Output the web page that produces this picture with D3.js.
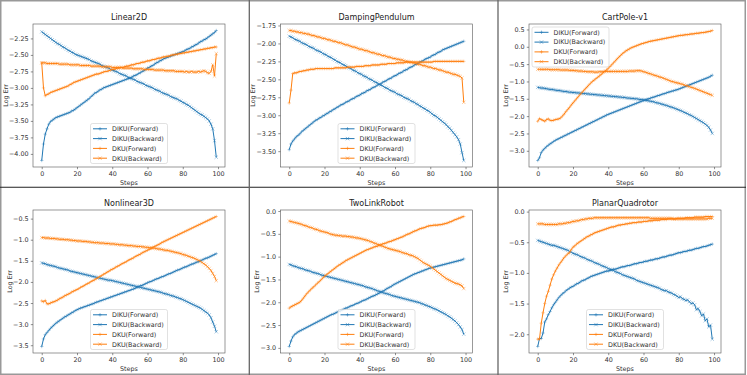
<!DOCTYPE html>
<html>
<head>
<meta charset="utf-8">
<script src="https://cdn.jsdelivr.net/npm/d3@7"></script>
<style>
  body { margin: 0; background: #fff; }
  svg { display: block; font-family: "DejaVu Sans", sans-serif; }
</style>
</head>
<body>
<div id="chart"></div>
<script>
// ---- data (log error per step, 0..99) ----
const steps = d3.range(100);
const seriesNames = ["DIKU(Forward)", "DIKU(Backward)", "DKU(Forward)", "DKU(Backward)"];
const seriesColors = ["#1f77b4", "#1f77b4", "#ff7f0e", "#ff7f0e"];
const seriesMarkers = ["+", "x", "+", "x"];
const xTicks = [0, 20, 40, 60, 80, 100];

// Linear2D
const linear2dDikuFwd = [-4.10,-3.85,-3.70,-3.62,-3.55,-3.51,-3.49,-3.47,-3.45,-3.44,
  -3.43,-3.42,-3.41,-3.40,-3.39,-3.38,-3.37,-3.35,-3.34,-3.32,
  -3.30,-3.28,-3.26,-3.24,-3.22,-3.20,-3.18,-3.16,-3.13,-3.11,
  -3.08,-3.07,-3.05,-3.03,-3.02,-3.00,-2.99,-2.98,-2.97,-2.96,
  -2.95,-2.94,-2.93,-2.92,-2.91,-2.90,-2.89,-2.88,-2.87,-2.86,
  -2.85,-2.84,-2.82,-2.81,-2.80,-2.78,-2.77,-2.75,-2.74,-2.72,
  -2.70,-2.69,-2.67,-2.66,-2.64,-2.62,-2.61,-2.59,-2.58,-2.56,
  -2.55,-2.54,-2.53,-2.52,-2.51,-2.50,-2.49,-2.48,-2.47,-2.46,
  -2.45,-2.44,-2.42,-2.41,-2.40,-2.38,-2.37,-2.35,-2.34,-2.32,
  -2.30,-2.29,-2.27,-2.26,-2.24,-2.22,-2.20,-2.18,-2.16,-2.13];
const linear2dDikuBwd = [-2.15,-2.17,-2.19,-2.21,-2.23,-2.25,-2.27,-2.29,-2.31,-2.33,
  -2.34,-2.36,-2.38,-2.39,-2.41,-2.43,-2.44,-2.46,-2.47,-2.49,
  -2.50,-2.51,-2.52,-2.53,-2.54,-2.55,-2.56,-2.57,-2.59,-2.60,
  -2.61,-2.62,-2.63,-2.64,-2.66,-2.67,-2.68,-2.69,-2.70,-2.72,
  -2.73,-2.74,-2.75,-2.76,-2.78,-2.79,-2.80,-2.81,-2.82,-2.84,
  -2.85,-2.86,-2.87,-2.88,-2.90,-2.91,-2.92,-2.93,-2.94,-2.96,
  -2.97,-2.98,-2.99,-3.00,-3.02,-3.03,-3.04,-3.05,-3.07,-3.08,
  -3.09,-3.10,-3.11,-3.13,-3.14,-3.15,-3.16,-3.17,-3.19,-3.20,
  -3.22,-3.23,-3.25,-3.26,-3.28,-3.30,-3.32,-3.34,-3.36,-3.38,
  -3.40,-3.41,-3.43,-3.45,-3.47,-3.50,-3.55,-3.62,-3.80,-4.05];
const linear2dDkuFwd = [-2.62,-3.00,-3.12,-3.10,-3.09,-3.07,-3.06,-3.05,-3.04,-3.03,
  -3.02,-3.01,-3.00,-2.99,-2.98,-2.97,-2.95,-2.94,-2.92,-2.91,
  -2.90,-2.89,-2.88,-2.87,-2.86,-2.85,-2.84,-2.83,-2.82,-2.81,
  -2.80,-2.79,-2.79,-2.78,-2.77,-2.76,-2.75,-2.75,-2.74,-2.73,
  -2.72,-2.72,-2.71,-2.70,-2.70,-2.69,-2.69,-2.68,-2.67,-2.67,
  -2.66,-2.65,-2.65,-2.64,-2.63,-2.63,-2.62,-2.61,-2.61,-2.60,
  -2.59,-2.59,-2.58,-2.57,-2.57,-2.56,-2.55,-2.55,-2.54,-2.53,
  -2.53,-2.52,-2.52,-2.51,-2.50,-2.50,-2.49,-2.49,-2.48,-2.48,
  -2.47,-2.47,-2.46,-2.46,-2.45,-2.45,-2.44,-2.44,-2.43,-2.43,
  -2.42,-2.42,-2.41,-2.41,-2.40,-2.40,-2.39,-2.39,-2.38,-2.38];
const linear2dDkuBwd = [-2.62,-2.62,-2.62,-2.63,-2.63,-2.63,-2.63,-2.63,-2.63,-2.63,
  -2.64,-2.64,-2.64,-2.64,-2.64,-2.64,-2.65,-2.65,-2.65,-2.65,
  -2.65,-2.65,-2.66,-2.66,-2.66,-2.66,-2.66,-2.66,-2.67,-2.67,
  -2.67,-2.67,-2.67,-2.67,-2.68,-2.68,-2.68,-2.68,-2.68,-2.68,
  -2.69,-2.69,-2.69,-2.69,-2.69,-2.69,-2.70,-2.70,-2.70,-2.70,
  -2.70,-2.70,-2.71,-2.71,-2.71,-2.71,-2.71,-2.71,-2.72,-2.72,
  -2.72,-2.72,-2.72,-2.72,-2.73,-2.73,-2.73,-2.73,-2.73,-2.73,
  -2.74,-2.74,-2.74,-2.74,-2.74,-2.74,-2.75,-2.75,-2.75,-2.75,
  -2.75,-2.76,-2.75,-2.76,-2.76,-2.75,-2.76,-2.76,-2.76,-2.75,
  -2.76,-2.75,-2.74,-2.75,-2.77,-2.78,-2.75,-2.65,-2.82,-2.48];
const linear2dTicks = [-4.00, -3.75, -3.50, -3.25, -3.00, -2.75, -2.50, -2.25];

// DampingPendulum
const dampingDikuFwd = [-3.48,-3.40,-3.36,-3.33,-3.30,-3.28,-3.26,-3.23,-3.21,-3.19,
  -3.17,-3.15,-3.13,-3.11,-3.09,-3.07,-3.06,-3.04,-3.03,-3.01,
  -3.00,-2.98,-2.97,-2.95,-2.94,-2.92,-2.91,-2.89,-2.88,-2.86,
  -2.85,-2.84,-2.82,-2.81,-2.80,-2.78,-2.77,-2.76,-2.74,-2.73,
  -2.72,-2.70,-2.69,-2.68,-2.66,-2.65,-2.64,-2.62,-2.61,-2.60,
  -2.58,-2.57,-2.56,-2.54,-2.53,-2.52,-2.50,-2.49,-2.48,-2.46,
  -2.45,-2.44,-2.42,-2.41,-2.40,-2.38,-2.37,-2.36,-2.34,-2.33,
  -2.32,-2.30,-2.29,-2.28,-2.26,-2.25,-2.24,-2.22,-2.21,-2.20,
  -2.19,-2.17,-2.16,-2.15,-2.13,-2.12,-2.11,-2.09,-2.08,-2.07,
  -2.06,-2.05,-2.04,-2.03,-2.02,-2.01,-2.00,-1.99,-1.98,-1.97];
const dampingDikuBwd = [-1.90,-1.91,-1.92,-1.94,-1.95,-1.96,-1.97,-1.99,-2.00,-2.01,
  -2.02,-2.04,-2.05,-2.06,-2.07,-2.09,-2.10,-2.11,-2.12,-2.14,
  -2.15,-2.16,-2.18,-2.19,-2.20,-2.22,-2.23,-2.25,-2.26,-2.27,
  -2.29,-2.30,-2.31,-2.33,-2.34,-2.35,-2.37,-2.38,-2.39,-2.41,
  -2.42,-2.43,-2.45,-2.46,-2.47,-2.49,-2.50,-2.51,-2.53,-2.54,
  -2.55,-2.57,-2.58,-2.59,-2.61,-2.62,-2.63,-2.65,-2.66,-2.67,
  -2.68,-2.70,-2.71,-2.72,-2.73,-2.75,-2.76,-2.77,-2.78,-2.80,
  -2.81,-2.82,-2.84,-2.85,-2.87,-2.88,-2.90,-2.91,-2.93,-2.94,
  -2.96,-2.98,-3.00,-3.01,-3.03,-3.05,-3.07,-3.09,-3.11,-3.13,
  -3.16,-3.18,-3.21,-3.24,-3.27,-3.30,-3.34,-3.40,-3.52,-3.63];
const dampingDkuFwd = [-2.83,-2.65,-2.42,-2.41,-2.41,-2.40,-2.39,-2.39,-2.38,-2.38,
  -2.37,-2.37,-2.36,-2.36,-2.36,-2.35,-2.35,-2.35,-2.35,-2.35,
  -2.35,-2.35,-2.35,-2.35,-2.35,-2.35,-2.34,-2.34,-2.34,-2.34,
  -2.34,-2.34,-2.34,-2.33,-2.33,-2.33,-2.33,-2.33,-2.32,-2.32,
  -2.32,-2.32,-2.32,-2.31,-2.31,-2.31,-2.31,-2.30,-2.30,-2.30,
  -2.30,-2.30,-2.29,-2.29,-2.29,-2.29,-2.28,-2.28,-2.28,-2.28,
  -2.28,-2.27,-2.27,-2.27,-2.27,-2.27,-2.26,-2.26,-2.26,-2.26,
  -2.26,-2.26,-2.26,-2.26,-2.26,-2.26,-2.26,-2.26,-2.26,-2.26,
  -2.26,-2.26,-2.25,-2.25,-2.25,-2.25,-2.25,-2.25,-2.25,-2.25,
  -2.25,-2.25,-2.25,-2.25,-2.25,-2.25,-2.25,-2.25,-2.25,-2.25];
const dampingDkuBwd = [-1.82,-1.82,-1.83,-1.83,-1.84,-1.84,-1.85,-1.85,-1.86,-1.86,
  -1.87,-1.87,-1.88,-1.89,-1.89,-1.90,-1.91,-1.91,-1.92,-1.93,
  -1.93,-1.94,-1.95,-1.95,-1.96,-1.97,-1.97,-1.98,-1.99,-1.99,
  -2.00,-2.01,-2.02,-2.02,-2.03,-2.04,-2.05,-2.05,-2.06,-2.07,
  -2.08,-2.08,-2.09,-2.10,-2.10,-2.11,-2.12,-2.13,-2.13,-2.14,
  -2.15,-2.15,-2.16,-2.17,-2.17,-2.18,-2.19,-2.19,-2.20,-2.21,
  -2.21,-2.22,-2.22,-2.23,-2.23,-2.24,-2.25,-2.25,-2.26,-2.26,
  -2.27,-2.27,-2.28,-2.29,-2.29,-2.30,-2.31,-2.31,-2.32,-2.33,
  -2.33,-2.34,-2.35,-2.35,-2.36,-2.37,-2.37,-2.38,-2.39,-2.40,
  -2.40,-2.41,-2.42,-2.43,-2.43,-2.44,-2.45,-2.46,-2.48,-2.82];
const dampingTicks = [-3.50, -3.25, -3.00, -2.75, -2.50, -2.25, -2.00, -1.75];

// CartPole-v1
const cartpoleDikuFwd = [-3.28,-3.20,-3.05,-2.98,-2.93,-2.88,-2.84,-2.80,-2.77,-2.73,
  -2.70,-2.67,-2.65,-2.62,-2.60,-2.57,-2.55,-2.52,-2.50,-2.47,
  -2.45,-2.42,-2.40,-2.37,-2.35,-2.32,-2.30,-2.27,-2.25,-2.22,
  -2.20,-2.17,-2.15,-2.12,-2.10,-2.07,-2.05,-2.02,-2.00,-1.97,
  -1.95,-1.93,-1.91,-1.89,-1.87,-1.85,-1.83,-1.81,-1.79,-1.77,
  -1.75,-1.73,-1.71,-1.69,-1.67,-1.65,-1.63,-1.61,-1.59,-1.57,
  -1.55,-1.53,-1.51,-1.50,-1.48,-1.46,-1.45,-1.43,-1.41,-1.40,
  -1.38,-1.36,-1.35,-1.33,-1.31,-1.30,-1.28,-1.27,-1.25,-1.24,
  -1.22,-1.20,-1.18,-1.16,-1.14,-1.12,-1.10,-1.08,-1.06,-1.04,
  -1.02,-1.00,-0.98,-0.96,-0.94,-0.92,-0.90,-0.88,-0.85,-0.82];
const cartpoleDikuBwd = [-1.17,-1.18,-1.19,-1.19,-1.20,-1.21,-1.22,-1.23,-1.23,-1.24,
  -1.25,-1.26,-1.26,-1.27,-1.28,-1.29,-1.29,-1.30,-1.31,-1.31,
  -1.32,-1.32,-1.33,-1.33,-1.34,-1.34,-1.35,-1.35,-1.36,-1.36,
  -1.37,-1.37,-1.38,-1.38,-1.39,-1.39,-1.40,-1.40,-1.41,-1.41,
  -1.42,-1.42,-1.43,-1.43,-1.44,-1.44,-1.45,-1.45,-1.46,-1.46,
  -1.47,-1.48,-1.48,-1.49,-1.49,-1.50,-1.50,-1.51,-1.52,-1.52,
  -1.53,-1.54,-1.55,-1.56,-1.57,-1.58,-1.59,-1.61,-1.62,-1.63,
  -1.65,-1.66,-1.68,-1.69,-1.71,-1.73,-1.74,-1.76,-1.78,-1.80,
  -1.82,-1.84,-1.86,-1.89,-1.91,-1.93,-1.96,-1.98,-2.01,-2.04,
  -2.07,-2.10,-2.13,-2.16,-2.19,-2.23,-2.27,-2.32,-2.40,-2.50];
const cartpoleDkuFwd = [-2.15,-2.07,-2.10,-2.12,-2.15,-2.10,-2.08,-2.12,-2.13,-2.12,
  -2.10,-2.09,-2.08,-2.05,-2.00,-1.94,-1.87,-1.81,-1.75,-1.68,
  -1.62,-1.56,-1.50,-1.44,-1.38,-1.32,-1.27,-1.21,-1.16,-1.10,
  -1.05,-1.00,-0.96,-0.92,-0.88,-0.84,-0.80,-0.75,-0.71,-0.67,
  -0.62,-0.57,-0.52,-0.46,-0.41,-0.35,-0.30,-0.25,-0.20,-0.16,
  -0.12,-0.09,-0.06,-0.03,-0.01,0.01,0.03,0.05,0.07,0.09,
  0.10,0.12,0.13,0.15,0.16,0.17,0.18,0.19,0.20,0.21,
  0.22,0.23,0.24,0.25,0.26,0.27,0.28,0.29,0.30,0.31,
  0.32,0.33,0.33,0.34,0.35,0.35,0.36,0.37,0.37,0.38,
  0.39,0.39,0.40,0.41,0.41,0.42,0.43,0.44,0.45,0.47];
const cartpoleDkuBwd = [-0.65,-0.65,-0.65,-0.65,-0.65,-0.65,-0.65,-0.66,-0.66,-0.66,
  -0.66,-0.66,-0.66,-0.67,-0.67,-0.67,-0.67,-0.67,-0.68,-0.68,
  -0.68,-0.69,-0.69,-0.70,-0.70,-0.70,-0.71,-0.71,-0.72,-0.72,
  -0.72,-0.72,-0.73,-0.73,-0.73,-0.72,-0.72,-0.72,-0.71,-0.71,
  -0.71,-0.71,-0.71,-0.71,-0.71,-0.71,-0.71,-0.71,-0.71,-0.71,
  -0.71,-0.71,-0.70,-0.70,-0.70,-0.70,-0.69,-0.69,-0.69,-0.70,
  -0.72,-0.73,-0.75,-0.77,-0.78,-0.80,-0.82,-0.83,-0.85,-0.87,
  -0.88,-0.90,-0.92,-0.94,-0.96,-0.98,-1.00,-1.01,-1.03,-1.04,
  -1.05,-1.07,-1.08,-1.10,-1.12,-1.13,-1.15,-1.17,-1.18,-1.20,
  -1.22,-1.24,-1.26,-1.28,-1.30,-1.32,-1.34,-1.36,-1.38,-1.40];
const cartpoleTicks = [-3.0, -2.5, -2.0, -1.5, -1.0, -0.5, 0.0, 0.5];

// Nonlinear3D
const nonlinearDikuFwd = [-3.53,-3.35,-3.25,-3.20,-3.15,-3.10,-3.06,-3.02,-2.98,-2.95,
  -2.92,-2.89,-2.86,-2.83,-2.81,-2.78,-2.76,-2.73,-2.71,-2.68,
  -2.66,-2.64,-2.62,-2.61,-2.59,-2.58,-2.56,-2.55,-2.53,-2.52,
  -2.50,-2.48,-2.47,-2.45,-2.44,-2.42,-2.41,-2.39,-2.38,-2.36,
  -2.35,-2.33,-2.32,-2.30,-2.29,-2.27,-2.26,-2.24,-2.23,-2.21,
  -2.20,-2.18,-2.17,-2.15,-2.13,-2.11,-2.09,-2.08,-2.06,-2.04,
  -2.02,-2.00,-1.99,-1.97,-1.95,-1.93,-1.92,-1.90,-1.88,-1.87,
  -1.85,-1.83,-1.81,-1.80,-1.78,-1.76,-1.74,-1.72,-1.71,-1.69,
  -1.67,-1.65,-1.64,-1.62,-1.60,-1.58,-1.57,-1.55,-1.53,-1.52,
  -1.50,-1.48,-1.46,-1.44,-1.43,-1.41,-1.39,-1.37,-1.35,-1.33];
const nonlinearDikuBwd = [-1.55,-1.56,-1.57,-1.59,-1.60,-1.61,-1.62,-1.63,-1.64,-1.66,
  -1.67,-1.68,-1.69,-1.70,-1.71,-1.72,-1.74,-1.75,-1.76,-1.77,
  -1.78,-1.79,-1.80,-1.81,-1.82,-1.83,-1.84,-1.85,-1.86,-1.87,
  -1.88,-1.89,-1.90,-1.91,-1.92,-1.93,-1.94,-1.95,-1.96,-1.96,
  -1.97,-1.98,-1.99,-2.00,-2.01,-2.02,-2.03,-2.04,-2.05,-2.06,
  -2.07,-2.08,-2.09,-2.10,-2.11,-2.12,-2.13,-2.14,-2.15,-2.16,
  -2.17,-2.18,-2.19,-2.20,-2.21,-2.22,-2.23,-2.24,-2.25,-2.27,
  -2.28,-2.29,-2.30,-2.32,-2.33,-2.34,-2.36,-2.37,-2.39,-2.40,
  -2.42,-2.44,-2.46,-2.48,-2.50,-2.52,-2.54,-2.56,-2.58,-2.60,
  -2.62,-2.65,-2.68,-2.71,-2.74,-2.78,-2.85,-2.95,-3.05,-3.18];
const nonlinearDkuFwd = [-2.45,-2.47,-2.44,-2.52,-2.52,-2.50,-2.48,-2.47,-2.45,-2.43,
  -2.40,-2.38,-2.36,-2.33,-2.31,-2.29,-2.27,-2.24,-2.22,-2.20,
  -2.18,-2.16,-2.13,-2.11,-2.09,-2.06,-2.04,-2.02,-1.99,-1.97,
  -1.95,-1.92,-1.90,-1.87,-1.85,-1.82,-1.80,-1.77,-1.75,-1.72,
  -1.70,-1.68,-1.65,-1.63,-1.61,-1.58,-1.56,-1.54,-1.52,-1.49,
  -1.47,-1.45,-1.43,-1.40,-1.38,-1.36,-1.34,-1.31,-1.29,-1.27,
  -1.25,-1.23,-1.21,-1.18,-1.16,-1.14,-1.12,-1.10,-1.07,-1.05,
  -1.03,-1.01,-0.99,-0.97,-0.95,-0.93,-0.91,-0.89,-0.87,-0.85,
  -0.83,-0.81,-0.79,-0.77,-0.75,-0.73,-0.71,-0.69,-0.67,-0.65,
  -0.63,-0.61,-0.59,-0.57,-0.55,-0.53,-0.51,-0.49,-0.47,-0.45];
const nonlinearDkuBwd = [-0.95,-0.95,-0.96,-0.96,-0.96,-0.97,-0.97,-0.97,-0.98,-0.98,
  -0.99,-0.99,-0.99,-1.00,-1.00,-1.00,-1.01,-1.01,-1.02,-1.02,
  -1.03,-1.03,-1.03,-1.04,-1.04,-1.04,-1.05,-1.05,-1.06,-1.06,
  -1.07,-1.07,-1.07,-1.08,-1.08,-1.08,-1.09,-1.09,-1.09,-1.10,
  -1.10,-1.10,-1.11,-1.11,-1.12,-1.12,-1.12,-1.13,-1.13,-1.14,
  -1.14,-1.14,-1.15,-1.15,-1.16,-1.16,-1.16,-1.17,-1.17,-1.18,
  -1.18,-1.19,-1.19,-1.20,-1.20,-1.21,-1.22,-1.22,-1.23,-1.24,
  -1.25,-1.25,-1.26,-1.27,-1.28,-1.29,-1.30,-1.31,-1.32,-1.33,
  -1.35,-1.36,-1.37,-1.39,-1.40,-1.42,-1.43,-1.45,-1.47,-1.49,
  -1.51,-1.54,-1.57,-1.60,-1.64,-1.68,-1.73,-1.80,-1.87,-1.97];
const nonlinearTicks = [-3.5, -3.0, -2.5, -2.0, -1.5, -1.0, -0.5];

// TwoLinkRobot
const twolinkDikuFwd = [-2.97,-2.85,-2.76,-2.71,-2.68,-2.65,-2.63,-2.61,-2.59,-2.57,
  -2.55,-2.53,-2.51,-2.49,-2.47,-2.45,-2.43,-2.41,-2.39,-2.37,
  -2.35,-2.33,-2.31,-2.29,-2.27,-2.26,-2.24,-2.22,-2.20,-2.19,
  -2.17,-2.15,-2.13,-2.12,-2.10,-2.08,-2.07,-2.05,-2.03,-2.02,
  -2.00,-1.98,-1.96,-1.95,-1.93,-1.91,-1.89,-1.87,-1.86,-1.84,
  -1.82,-1.80,-1.78,-1.76,-1.74,-1.71,-1.69,-1.67,-1.65,-1.62,
  -1.60,-1.58,-1.56,-1.54,-1.52,-1.50,-1.48,-1.46,-1.44,-1.42,
  -1.40,-1.38,-1.37,-1.35,-1.34,-1.32,-1.31,-1.29,-1.28,-1.26,
  -1.25,-1.24,-1.23,-1.22,-1.21,-1.20,-1.19,-1.18,-1.17,-1.16,
  -1.15,-1.14,-1.13,-1.12,-1.11,-1.10,-1.09,-1.08,-1.07,-1.05];
const twolinkDikuBwd = [-1.17,-1.18,-1.20,-1.21,-1.22,-1.24,-1.25,-1.26,-1.27,-1.29,
  -1.30,-1.31,-1.32,-1.34,-1.35,-1.36,-1.37,-1.38,-1.40,-1.41,
  -1.42,-1.43,-1.44,-1.45,-1.46,-1.47,-1.48,-1.49,-1.50,-1.51,
  -1.52,-1.53,-1.54,-1.55,-1.56,-1.57,-1.58,-1.59,-1.60,-1.61,
  -1.62,-1.63,-1.64,-1.66,-1.67,-1.68,-1.69,-1.70,-1.72,-1.73,
  -1.75,-1.76,-1.77,-1.79,-1.80,-1.81,-1.82,-1.83,-1.85,-1.86,
  -1.87,-1.88,-1.89,-1.90,-1.91,-1.92,-1.93,-1.94,-1.95,-1.96,
  -1.97,-1.98,-1.99,-2.00,-2.01,-2.03,-2.04,-2.06,-2.07,-2.09,
  -2.10,-2.12,-2.14,-2.15,-2.17,-2.19,-2.21,-2.23,-2.25,-2.27,
  -2.30,-2.32,-2.35,-2.38,-2.41,-2.45,-2.49,-2.54,-2.60,-2.70];
const twolinkDkuFwd = [-2.13,-2.10,-2.08,-2.06,-2.04,-2.02,-2.00,-1.96,-1.91,-1.86,
  -1.81,-1.77,-1.73,-1.69,-1.66,-1.62,-1.58,-1.55,-1.51,-1.47,
  -1.43,-1.40,-1.37,-1.34,-1.31,-1.28,-1.25,-1.22,-1.19,-1.17,
  -1.14,-1.12,-1.09,-1.07,-1.05,-1.03,-1.01,-0.99,-0.97,-0.95,
  -0.93,-0.91,-0.89,-0.87,-0.85,-0.84,-0.82,-0.81,-0.79,-0.78,
  -0.77,-0.75,-0.74,-0.72,-0.71,-0.70,-0.68,-0.67,-0.66,-0.64,
  -0.63,-0.61,-0.60,-0.58,-0.57,-0.55,-0.53,-0.51,-0.50,-0.48,
  -0.46,-0.44,-0.43,-0.41,-0.39,-0.38,-0.37,-0.36,-0.34,-0.33,
  -0.32,-0.32,-0.31,-0.31,-0.31,-0.30,-0.30,-0.29,-0.28,-0.27,
  -0.26,-0.24,-0.23,-0.21,-0.19,-0.18,-0.16,-0.15,-0.13,-0.12];
const twolinkDkuBwd = [-0.22,-0.23,-0.24,-0.25,-0.26,-0.27,-0.28,-0.29,-0.31,-0.32,
  -0.33,-0.35,-0.36,-0.37,-0.39,-0.40,-0.41,-0.43,-0.44,-0.45,
  -0.46,-0.47,-0.48,-0.50,-0.51,-0.52,-0.53,-0.53,-0.54,-0.54,
  -0.55,-0.55,-0.55,-0.56,-0.56,-0.57,-0.57,-0.58,-0.59,-0.59,
  -0.60,-0.61,-0.62,-0.63,-0.64,-0.65,-0.67,-0.68,-0.70,-0.71,
  -0.73,-0.74,-0.76,-0.77,-0.79,-0.80,-0.82,-0.83,-0.84,-0.85,
  -0.86,-0.87,-0.88,-0.89,-0.91,-0.92,-0.93,-0.94,-0.96,-0.97,
  -0.98,-1.00,-1.02,-1.04,-1.07,-1.10,-1.13,-1.15,-1.17,-1.19,
  -1.21,-1.24,-1.27,-1.30,-1.33,-1.36,-1.39,-1.42,-1.45,-1.48,
  -1.50,-1.52,-1.54,-1.56,-1.58,-1.59,-1.60,-1.62,-1.64,-1.70];
const twolinkTicks = [-3.0, -2.5, -2.0, -1.5, -1.0, -0.5, 0.0];

// PlanarQuadrotor
const quadDikuFwd = [-2.20,-2.07,-2.07,-1.98,-1.80,-1.75,-1.68,-1.63,-1.57,-1.52,
  -1.48,-1.44,-1.40,-1.37,-1.34,-1.32,-1.29,-1.27,-1.25,-1.23,
  -1.22,-1.20,-1.18,-1.17,-1.15,-1.13,-1.12,-1.11,-1.09,-1.08,
  -1.06,-1.05,-1.04,-1.03,-1.02,-1.01,-1.00,-0.99,-0.98,-0.97,
  -0.97,-0.96,-0.95,-0.94,-0.94,-0.93,-0.92,-0.91,-0.90,-0.90,
  -0.89,-0.88,-0.88,-0.87,-0.86,-0.85,-0.85,-0.84,-0.83,-0.83,
  -0.82,-0.81,-0.81,-0.80,-0.79,-0.79,-0.78,-0.77,-0.77,-0.76,
  -0.75,-0.74,-0.74,-0.73,-0.72,-0.71,-0.71,-0.70,-0.69,-0.68,
  -0.67,-0.67,-0.66,-0.65,-0.65,-0.64,-0.63,-0.63,-0.62,-0.61,
  -0.60,-0.60,-0.59,-0.58,-0.57,-0.57,-0.56,-0.55,-0.54,-0.53];
const quadDikuBwd = [-0.47,-0.48,-0.49,-0.50,-0.51,-0.52,-0.53,-0.54,-0.55,-0.55,
  -0.56,-0.57,-0.58,-0.59,-0.60,-0.61,-0.62,-0.63,-0.65,-0.66,
  -0.68,-0.69,-0.70,-0.71,-0.73,-0.74,-0.75,-0.76,-0.78,-0.79,
  -0.80,-0.81,-0.83,-0.84,-0.85,-0.86,-0.88,-0.89,-0.90,-0.91,
  -0.93,-0.94,-0.95,-0.96,-0.98,-0.99,-1.00,-1.01,-1.03,-1.04,
  -1.05,-1.06,-1.07,-1.08,-1.09,-1.10,-1.12,-1.13,-1.14,-1.15,
  -1.16,-1.17,-1.18,-1.19,-1.20,-1.21,-1.22,-1.23,-1.24,-1.25,
  -1.27,-1.28,-1.29,-1.29,-1.31,-1.32,-1.33,-1.35,-1.36,-1.38,
  -1.40,-1.39,-1.42,-1.43,-1.45,-1.44,-1.47,-1.50,-1.49,-1.52,
  -1.60,-1.58,-1.63,-1.70,-1.67,-1.78,-1.75,-1.88,-1.85,-2.08];
const quadDkuFwd = [-2.08,-2.08,-1.82,-1.65,-1.50,-1.38,-1.30,-1.20,-1.10,-1.03,
  -0.97,-0.92,-0.87,-0.83,-0.79,-0.75,-0.72,-0.69,-0.67,-0.62,
  -0.58,-0.56,-0.53,-0.51,-0.49,-0.47,-0.45,-0.43,-0.41,-0.40,
  -0.38,-0.37,-0.35,-0.34,-0.33,-0.32,-0.31,-0.30,-0.29,-0.28,
  -0.27,-0.26,-0.25,-0.25,-0.24,-0.23,-0.22,-0.22,-0.21,-0.21,
  -0.20,-0.20,-0.19,-0.19,-0.18,-0.18,-0.18,-0.17,-0.17,-0.17,
  -0.16,-0.16,-0.16,-0.15,-0.15,-0.15,-0.14,-0.14,-0.14,-0.14,
  -0.13,-0.13,-0.13,-0.13,-0.12,-0.12,-0.12,-0.12,-0.12,-0.11,
  -0.11,-0.11,-0.11,-0.11,-0.10,-0.10,-0.10,-0.10,-0.10,-0.09,
  -0.09,-0.09,-0.09,-0.09,-0.09,-0.08,-0.08,-0.08,-0.08,-0.08];
const quadDkuBwd = [-0.20,-0.20,-0.20,-0.20,-0.21,-0.21,-0.21,-0.21,-0.21,-0.21,
  -0.21,-0.21,-0.20,-0.20,-0.20,-0.19,-0.19,-0.18,-0.18,-0.17,
  -0.16,-0.16,-0.15,-0.15,-0.14,-0.13,-0.13,-0.12,-0.12,-0.11,
  -0.11,-0.11,-0.10,-0.10,-0.10,-0.10,-0.10,-0.10,-0.10,-0.10,
  -0.10,-0.10,-0.10,-0.10,-0.10,-0.10,-0.10,-0.10,-0.10,-0.10,
  -0.10,-0.10,-0.10,-0.10,-0.10,-0.10,-0.10,-0.10,-0.10,-0.10,
  -0.10,-0.10,-0.10,-0.10,-0.11,-0.11,-0.11,-0.11,-0.11,-0.11,
  -0.11,-0.11,-0.11,-0.11,-0.11,-0.11,-0.11,-0.12,-0.12,-0.12,
  -0.12,-0.12,-0.12,-0.12,-0.12,-0.12,-0.12,-0.12,-0.12,-0.12,
  -0.12,-0.12,-0.12,-0.12,-0.12,-0.12,-0.12,-0.11,-0.11,-0.11];
const quadTicks = [-2.0, -1.5, -1.0, -0.5, 0.0];

const panels = [
  { title: "Linear2D", series: [linear2dDikuFwd, linear2dDikuBwd, linear2dDkuFwd, linear2dDkuBwd], ticks: linear2dTicks, fmt: ".2f", legend: "lower center" },
  { title: "DampingPendulum", series: [dampingDikuFwd, dampingDikuBwd, dampingDkuFwd, dampingDkuBwd], ticks: dampingTicks, fmt: ".2f", legend: "lower center" },
  { title: "CartPole-v1", series: [cartpoleDikuFwd, cartpoleDikuBwd, cartpoleDkuFwd, cartpoleDkuBwd], ticks: cartpoleTicks, fmt: ".1f", legend: "upper left" },
  { title: "Nonlinear3D", series: [nonlinearDikuFwd, nonlinearDikuBwd, nonlinearDkuFwd, nonlinearDkuBwd], ticks: nonlinearTicks, fmt: ".1f", legend: "lower center" },
  { title: "TwoLinkRobot", series: [twolinkDikuFwd, twolinkDikuBwd, twolinkDkuFwd, twolinkDkuBwd], ticks: twolinkTicks, fmt: ".1f", legend: "lower center" },
  { title: "PlanarQuadrotor", series: [quadDikuFwd, quadDikuBwd, quadDkuFwd, quadDkuBwd], ticks: quadTicks, fmt: ".1f", legend: "lower center" }
];

// ---- layout ----
const W = 747, H = 375;
const colLeft = [33, 280.5, 529];
const rowTop = [24, 210];
const axW = 192, axH = 143;
const tickFont = 6.4, titleFont = 8;

const svg = d3.select("#chart").append("svg")
  .attr("width", W).attr("height", H);

svg.append("rect").attr("width", W).attr("height", H).attr("fill", "#fff");

function markerPath(type, s) {
  if (type === "+") return `M${-s},0H${s}M0,${-s}V${s}`;
  return `M${-s},${-s}L${s},${s}M${-s},${s}L${s},${-s}`;
}

panels.forEach((p, i) => {
  const left = colLeft[i % 3], top = rowTop[Math.floor(i / 3)];
  const g = svg.append("g").attr("transform", `translate(${left},${top})`);

  const all = p.series.flat();
  const lo = d3.min(all), hi = d3.max(all), pad = (hi - lo) * 0.05;
  const x = d3.scaleLinear().domain([-4.95, 103.95]).range([0, axW]);
  const y = d3.scaleLinear().domain([lo - pad, hi + pad]).range([axH, 0]);

  // series
  const line = d3.line().x((d, k) => x(steps[k])).y(d => y(d));
  p.series.forEach((vals, s) => {
    const sg = g.append("g");
    sg.append("path")
      .attr("d", line(vals))
      .attr("fill", "none")
      .attr("stroke", seriesColors[s])
      .attr("stroke-width", 1);
    sg.selectAll("path.m").data(vals).enter().append("path")
      .attr("class", "m")
      .attr("transform", (d, k) => `translate(${x(steps[k])},${y(d)})`)
      .attr("d", markerPath(seriesMarkers[s], 1.7))
      .attr("stroke", seriesColors[s])
      .attr("stroke-opacity", 0.75)
      .attr("stroke-width", 0.5)
      .attr("fill", "none");
  });

  // axes
  const xAxis = g.append("g").attr("transform", `translate(0,${axH})`)
    .call(d3.axisBottom(x).tickValues(xTicks).tickSize(2.2).tickPadding(2.2).tickFormat(d3.format("d")));
  const yAxis = g.append("g")
    .call(d3.axisLeft(y).tickValues(p.ticks).tickSize(2.2).tickPadding(2.2).tickFormat(d3.format(p.fmt)));
  [xAxis, yAxis].forEach(a => {
    a.select(".domain").remove();
    a.selectAll("line").attr("stroke", "#444").attr("stroke-width", 0.6);
    a.selectAll("text").attr("font-size", tickFont).attr("fill", "#333")
      .attr("font-family", "'DejaVu Sans', sans-serif");
  });

  g.append("rect").attr("width", axW).attr("height", axH)
    .attr("fill", "none").attr("stroke", "#555").attr("stroke-width", 0.6);

  // labels
  g.append("text").attr("x", axW / 2).attr("y", -3.8)
    .attr("text-anchor", "middle").attr("font-size", titleFont).attr("fill", "#222")
    .text(p.title);
  g.append("text").attr("x", axW / 2).attr("y", axH + 17.5)
    .attr("text-anchor", "middle").attr("font-size", tickFont).attr("fill", "#333")
    .text("Steps");
  let maxW = 0;
  yAxis.selectAll("text").each(function () { maxW = Math.max(maxW, this.getComputedTextLength()); });
  const ylx = -(2.2 + 2.2 + maxW + 1.5);
  g.append("text")
    .attr("transform", `translate(${ylx},${axH / 2}) rotate(-90)`)
    .attr("text-anchor", "middle").attr("font-size", tickFont).attr("fill", "#333")
    .text("Log Err");

  // legend
  const rowH = 9.8, legW = 77, legH = 40;
  const lx = p.legend === "upper left" ? 3 : (axW - legW) / 2;
  const ly = p.legend === "upper left" ? 3 : axH - 3.5 - legH;
  const lg = g.append("g").attr("transform", `translate(${lx},${ly})`);
  lg.append("rect").attr("width", legW).attr("height", legH).attr("rx", 2)
    .attr("fill", "#fff").attr("fill-opacity", 0.8)
    .attr("stroke", "#ccc").attr("stroke-width", 0.6);
  seriesNames.forEach((name, s) => {
    const cy = 5.3 + s * rowH;
    lg.append("line").attr("x1", 2.5).attr("x2", 16.5).attr("y1", cy).attr("y2", cy)
      .attr("stroke", seriesColors[s]).attr("stroke-width", 1);
    lg.append("path").attr("transform", `translate(9.5,${cy})`)
      .attr("d", markerPath(seriesMarkers[s], 1.7))
      .attr("stroke", seriesColors[s]).attr("stroke-width", 0.5).attr("fill", "none");
    lg.append("text").attr("x", 21.5).attr("y", cy + 2.3)
      .attr("font-size", tickFont).attr("fill", "#333").text(name);
  });
});

// panel frames
const frame = svg.append("g").attr("fill", "none");
frame.append("rect").attr("x", 0.75).attr("y", 0.75).attr("width", 744.5).attr("height", 373.5)
  .attr("stroke", "#999").attr("stroke-width", 1.5);
frame.append("line").attr("x1", 0).attr("x2", 746).attr("y1", 187.3).attr("y2", 187.3)
  .attr("stroke", "#222").attr("stroke-width", 1.1);
[249.3, 498].forEach(vx => {
  frame.append("line").attr("x1", vx).attr("x2", vx).attr("y1", 0).attr("y2", H)
    .attr("stroke", "#666").attr("stroke-width", 1.3);
});
</script>
</body>
</html>
